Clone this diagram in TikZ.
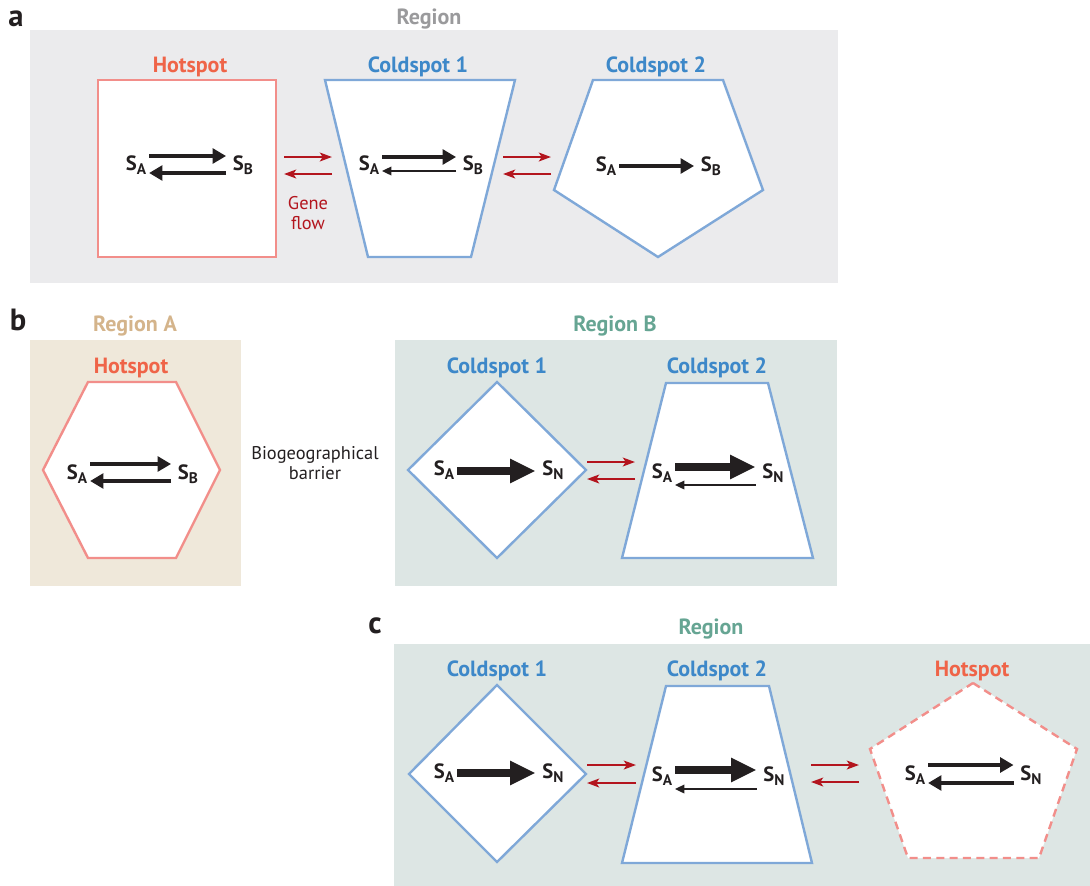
\documentclass[tikz,border=0pt]{standalone}
\usepackage{fontspec}
\setmainfont{PT Sans}
\usetikzlibrary{arrows.meta,positioning}
\definecolor{hotline}{HTML}{F28E8A}
\definecolor{hottext}{HTML}{EF6448}
\definecolor{coldline}{HTML}{7FA8D8}
\definecolor{coldtext}{HTML}{3D88C9}
\definecolor{flowred}{HTML}{B3151E}
\definecolor{ink}{HTML}{231F20}
\definecolor{greybg}{HTML}{EBEBED}
\definecolor{greytext}{HTML}{9A9A9C}
\definecolor{tanbg}{HTML}{EFE8DA}
\definecolor{tantext}{HTML}{D4B48B}
\definecolor{tealbg}{HTML}{DDE6E4}
\definecolor{tealtext}{HTML}{66A593}
\newcommand{\spc}[1]{S\raisebox{-3pt}{\fontsize{11.5}{11.5}\selectfont #1}}
\tikzstyle{panel}=[font=\fontsize{23}{24}\selectfont\bfseries, text=ink, inner sep=0pt]
\tikzstyle{spottitle}=[font=\fontsize{16.5}{18}\selectfont\bfseries, inner sep=0pt]
\tikzstyle{hot}=[spottitle, text=hottext]
\tikzstyle{cold}=[spottitle, text=coldtext]
\tikzstyle{plain}=[font=\fontsize{13.8}{15}\selectfont, align=center, inner sep=0pt]
\tikzstyle{sp}=[font=\fontsize{15.5}{17}\selectfont\bfseries, text=ink, inner sep=1pt]
\tikzstyle{hotshape}=[draw=hotline, fill=white, line width=1.8pt]
\tikzstyle{coldshape}=[draw=coldline, fill=white, line width=1.8pt]
\tikzstyle{flow}=[draw=flowred, line width=1.8pt, -{Stealth[length=9pt,width=6.5pt,inset=2pt]}]
\tikzstyle{medarr}=[draw=ink, line width=3.7pt, -{Triangle[length=10pt,width=11pt]}]
\tikzstyle{weakarr}=[draw=ink, line width=1.1pt, -{Triangle[length=7pt,width=6.5pt]}]
\tikzstyle{fatarr}=[draw=ink, line width=6pt, -{Triangle[length=19pt,width=17pt]}]
\tikzstyle{fwd}=[shorten <=1pt, shorten >=4pt]
\tikzstyle{bwd}=[shorten <=4pt, shorten >=1pt]

\begin{document}
\begin{tikzpicture}[x=0.75pt, y=-0.75pt]
    \useasboundingbox (0,0) rectangle (1090,886);

    % panel a
    \fill[greybg] (30,30) rectangle (838,283);
    \node (la) [panel] at (16,19) {a};
    \node (rega) [spottitle, text=greytext] at (429,19) {Region};

    \node (ahot) [hot] at (190,67) {Hotspot};
    \draw[hotshape] (98,80) rectangle (276,257);
    \node (ahsa) [sp] at (136,165) {\spc{A}};
    \node (ahsb) [sp] at (243,165) {\spc{B}};
    \draw[medarr, fwd] (ahsa.east |- 0,156) -- (ahsb.west |- 0,156);
    \draw[medarr, bwd] (ahsb.west |- 0,173) -- (ahsa.east |- 0,173);

    \node (acold1) [cold] at (418,67) {Coldspot 1};
    \draw[coldshape] (325,80) -- (515,80) -- (471,257) -- (368,257) -- cycle;
    \node (ac1sa) [sp] at (369,165) {\spc{A}};
    \node (ac1sb) [sp] at (473,165) {\spc{B}};
    \draw[medarr, fwd] (ac1sa.east |- 0,157) -- (ac1sb.west |- 0,157);
    \draw[weakarr, bwd] (ac1sb.west |- 0,171) -- (ac1sa.east |- 0,171);

    \node (acold2) [cold] at (656,67) {Coldspot 2};
    \draw[coldshape] (593,80) -- (723,80) -- (763,190) -- (658,257) -- (554,190) -- cycle;
    \node (ac2sa) [sp] at (606,166) {\spc{A}};
    \node (ac2sb) [sp] at (711,166) {\spc{B}};
    \draw[medarr, fwd, line width=3pt] (ac2sa.east) -- (ac2sb.west);

    \coordinate (af1l) at (284,165); \coordinate (af1r) at (332,165);
    \draw[flow] (af1l |- 0,157) -- (af1r |- 0,157);
    \draw[flow] (af1r |- 0,174) -- (af1l |- 0,174);
    \node (gene) [plain, text=flowred] at (308,213) {Gene\\flow};
    \coordinate (af2l) at (503,165); \coordinate (af2r) at (551,165);
    \draw[flow] (af2l |- 0,157) -- (af2r |- 0,157);
    \draw[flow] (af2r |- 0,174) -- (af2l |- 0,174);

    % panel b
    \fill[tanbg] (30,340) rectangle (241,586);
    \fill[tealbg] (395,340) rectangle (837,586);
    \node (lb) [panel] at (18,320) {b};
    \node (regA) [spottitle, text=tantext] at (135,326) {Region A};
    \node (regB) [spottitle, text=tealtext] at (615,326) {Region B};

    \node (bhot) [hot] at (131,368) {Hotspot};
    \draw[hotshape] (88,382) -- (176,382) -- (220,470) -- (176,558) -- (88,558) -- (43,470) -- cycle;
    \node (bhsa) [sp] at (77,474) {\spc{A}};
    \node (bhsb) [sp] at (188,474) {\spc{B}};
    \draw[medarr, fwd] (bhsa.east |- 0,464) -- (bhsb.west |- 0,464);
    \draw[medarr, bwd] (bhsb.west |- 0,481) -- (bhsa.east |- 0,481);

    \node (barrier) [plain, text=ink] at (315,463) {Biogeographical\\barrier};

    \node (bcold1) [cold] at (497,368) {Coldspot 1};
    \draw[coldshape] (497,382) -- (586,470) -- (497,558) -- (408,470) -- cycle;
    \node (bc1sa) [sp] at (444,470) {\spc{A}};
    \node (bc1sn) [sp] at (553,470) {\spc{N}};
    \draw[fatarr, fwd] (bc1sa.east |- 0,471) -- (bc1sn.west |- 0,471);

    \node (bcold2) [cold] at (717,368) {Coldspot 2};
    \draw[coldshape] (666,383) -- (768,383) -- (813,558) -- (622,558) -- cycle;
    \node (bc2sa) [sp] at (662,473) {\spc{A}};
    \node (bc2sn) [sp] at (773,473) {\spc{N}};
    \draw[fatarr, fwd] (bc2sa.east |- 0,467) -- (bc2sn.west |- 0,467);
    \draw[weakarr, bwd] (bc2sn.west |- 0,485) -- (bc2sa.east |- 0,485);

    \coordinate (bfl) at (587,470); \coordinate (bfr) at (635,470);
    \draw[flow] (bfl |- 0,462) -- (bfr |- 0,462);
    \draw[flow] (bfr |- 0,479) -- (bfl |- 0,479);

    % panel c
    \fill[tealbg] (394,644) rectangle (1090,886);
    \node (lc) [panel] at (375,626) {c};
    \node (regc) [spottitle, text=tealtext] at (711,629) {Region};

    \node (ccold1) [cold] at (497,671) {Coldspot 1};
    \draw[coldshape] (497,685) -- (586,774) -- (497,862) -- (409,774) -- cycle;
    \node (cc1sa) [sp] at (444,773) {\spc{A}};
    \node (cc1sn) [sp] at (553,773) {\spc{N}};
    \draw[fatarr, fwd] (cc1sa.east |- 0,773) -- (cc1sn.west |- 0,773);

    \node (ccold2) [cold] at (717,671) {Coldspot 2};
    \draw[coldshape] (666,686) -- (769,686) -- (812,863) -- (622,863) -- cycle;
    \node (cc2sa) [sp] at (662,776) {\spc{A}};
    \node (cc2sn) [sp] at (774,776) {\spc{N}};
    \draw[fatarr, fwd] (cc2sa.east |- 0,770) -- (cc2sn.west |- 0,770);
    \draw[weakarr, bwd] (cc2sn.west |- 0,789) -- (cc2sa.east |- 0,789);

    \node (chot) [hot] at (972,671) {Hotspot};
    \draw[hotshape, dash pattern=on 6pt off 4pt] (973,683) -- (1077,749) -- (1039,858) -- (908,858) -- (870,749) -- cycle;
    \node (chsa) [sp] at (915,775) {\spc{A}};
    \node (chsn) [sp] at (1031,775) {\spc{N}};
    \draw[medarr, fwd] (chsa.east |- 0,765) -- (chsn.west |- 0,765);
    \draw[medarr, bwd] (chsn.west |- 0,783) -- (chsa.east |- 0,783);

    \coordinate (cf1l) at (587,774); \coordinate (cf1r) at (636,774);
    \draw[flow] (cf1l |- 0,765) -- (cf1r |- 0,765);
    \draw[flow] (cf1r |- 0,783) -- (cf1l |- 0,783);
    \coordinate (cf2l) at (811,774); \coordinate (cf2r) at (859,774);
    \draw[flow] (cf2l |- 0,765) -- (cf2r |- 0,765);
    \draw[flow] (cf2r |- 0,782) -- (cf2l |- 0,782);
\end{tikzpicture}
\end{document}
